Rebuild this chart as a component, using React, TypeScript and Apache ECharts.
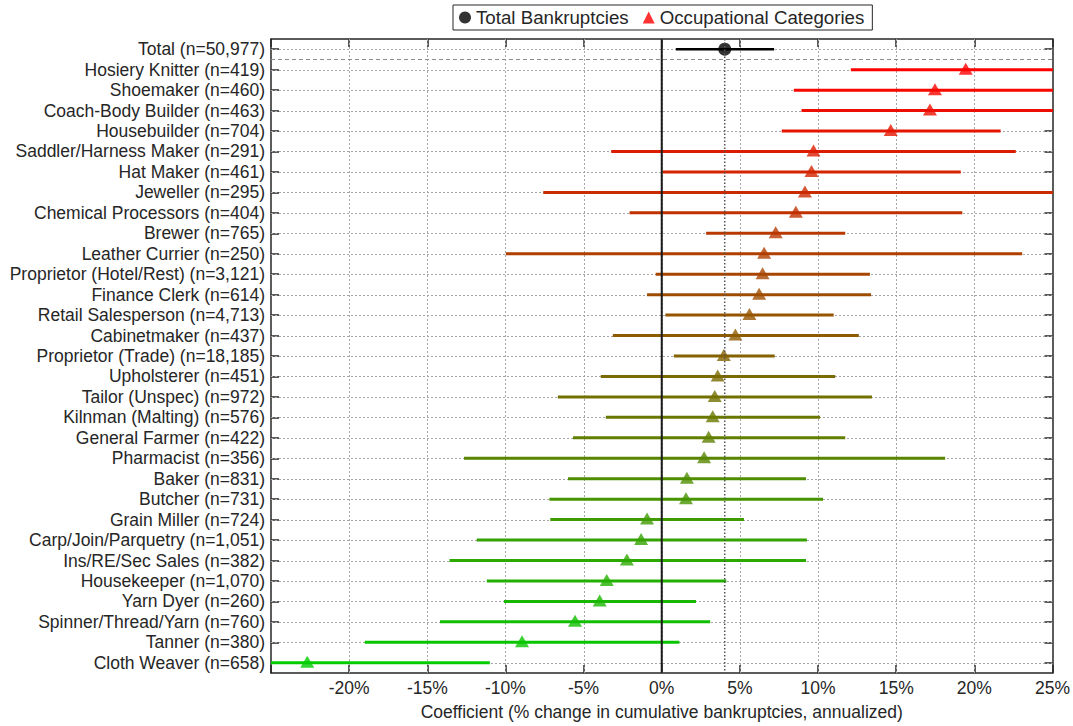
import React, { useEffect, useRef } from "react";
import * as echarts from "echarts";

// Row labels, top to bottom (first row is the pooled total)
const categories = [
  "Total (n=50,977)",
  "Hosiery Knitter (n=419)",
  "Shoemaker (n=460)",
  "Coach-Body Builder (n=463)",
  "Housebuilder (n=704)",
  "Saddler/Harness Maker (n=291)",
  "Hat Maker (n=461)",
  "Jeweller (n=295)",
  "Chemical Processors (n=404)",
  "Brewer (n=765)",
  "Leather Currier (n=250)",
  "Proprietor (Hotel/Rest) (n=3,121)",
  "Finance Clerk (n=614)",
  "Retail Salesperson (n=4,713)",
  "Cabinetmaker (n=437)",
  "Proprietor (Trade) (n=18,185)",
  "Upholsterer (n=451)",
  "Tailor (Unspec) (n=972)",
  "Kilnman (Malting) (n=576)",
  "General Farmer (n=422)",
  "Pharmacist (n=356)",
  "Baker (n=831)",
  "Butcher (n=731)",
  "Grain Miller (n=724)",
  "Carp/Join/Parquetry (n=1,051)",
  "Ins/RE/Sec Sales (n=382)",
  "Housekeeper (n=1,070)",
  "Yarn Dyer (n=260)",
  "Spinner/Thread/Yarn (n=760)",
  "Tanner (n=380)",
  "Cloth Weaver (n=658)",
];

// Point estimates (% change in cumulative bankruptcies, annualized)
const estimates = [
  4.03, 19.45, 17.48, 17.16, 14.65, 9.71, 9.58, 9.16, 8.58, 7.29, 6.55, 6.45,
  6.23, 5.61, 4.71, 3.97, 3.58, 3.39, 3.26, 3.0, 2.71, 1.61, 1.55, -0.94,
  -1.32, -2.23, -3.52, -3.97, -5.55, -8.94, -22.68,
];

// Lower bounds of the confidence intervals
const lowerBounds = [
  0.9, 12.1, 8.45, 8.94, 7.68, -3.23, 0.06, -7.58, -2.06, 2.84, -9.97, -0.39,
  -0.94, 0.23, -3.13, 0.77, -3.9, -6.65, -3.58, -5.68, -12.65, -6.0, -7.19,
  -7.13, -11.84, -13.58, -11.19, -10.1, -14.19, -19.0, -32.8,
];

// Upper bounds of the confidence intervals
const upperBounds = [
  7.19, 27.3, 27.3, 26.0, 21.68, 22.65, 19.13, 28.9, 19.23, 11.74, 23.06,
  13.32, 13.39, 11.0, 12.61, 7.23, 11.1, 13.45, 10.13, 11.74, 18.13, 9.23,
  10.32, 5.26, 9.29, 9.23, 4.13, 2.19, 3.1, 1.13, -11.0,
];

const xTicks = { min: -25, max: 25, step: 5 };

const FONT = '"Liberation Sans", Arial, Helvetica, sans-serif';
const INK = "#262626";
const GRID = "#a6a6a6";
const GRID_DASH = [2, 2];

// red -> green ramp across the occupational rows
function rowColor(i: number): string {
  if (i === 0) return "#000000";
  const t = (i - 1) / (categories.length - 2);
  const r = Math.round(255 * (1 - t));
  const g = Math.round(204 * t);
  return `rgb(${r},${g},0)`;
}

export default function App() {
  const ref = useRef<HTMLDivElement>(null);

  useEffect(() => {
    if (!ref.current) return;
    const chart = echarts.init(ref.current, undefined, { renderer: "svg" });

    const baseX = {
      type: "value" as const,
      min: xTicks.min,
      max: xTicks.max,
      interval: xTicks.step,
    };
    const boxLine = { show: true, onZero: false, lineStyle: { color: INK, width: 1.5 } };
    const boxTick = { show: true, inside: true, length: 8, lineStyle: { color: INK, width: 1.5 } };

    const option = {
      animation: false,
      textStyle: { fontFamily: FONT },
      grid: { left: 271, right: 20, top: 39, bottom: 47, containLabel: false },
      legend: {
        data: [
          { name: "Total Bankruptcies", icon: "circle" },
          { name: "Occupational Categories", icon: "triangle" },
        ],
        left: 453,
        top: 5,
        padding: [3, 8, 3, 6],
        itemGap: 14,
        itemWidth: 12,
        itemHeight: 12,
        borderColor: INK,
        borderWidth: 1,
        backgroundColor: "#fff",
        textStyle: { fontFamily: FONT, fontSize: 18.7, color: INK },
      },
      xAxis: [
        {
          ...baseX,
          position: "bottom",
          name: "Coefficient (% change in cumulative bankruptcies, annualized)",
          nameLocation: "middle",
          nameGap: 30,
          nameTextStyle: { fontFamily: FONT, fontSize: 17.5, color: INK },
          axisLine: boxLine,
          axisTick: boxTick,
          axisLabel: {
            show: true,
            margin: 6,
            fontFamily: FONT,
            fontSize: 17.5,
            color: INK,
            formatter: (v: number) => (v === xTicks.min ? "" : `${v}%`),
          },
          splitLine: { show: false },
        },
        {
          ...baseX,
          position: "top",
          axisLine: boxLine,
          axisTick: boxTick,
          axisLabel: { show: false },
          splitLine: { show: false },
        },
      ],
      yAxis: [
        {
          type: "category",
          data: categories,
          inverse: true,
          position: "left",
          axisLine: boxLine,
          axisTick: { ...boxTick, alignWithLabel: true, interval: 0 },
          axisLabel: { show: true, margin: 6, fontFamily: FONT, fontSize: 17.5, color: INK, interval: 0 },
          splitLine: { show: false },
        },
        {
          type: "category",
          data: categories,
          inverse: true,
          position: "right",
          axisLine: boxLine,
          axisTick: { ...boxTick, alignWithLabel: true, interval: 0 },
          axisLabel: { show: false },
          splitLine: { show: false },
        },
      ],
      series: [
        // dotted grid: one horizontal line per row, one vertical line per x tick
        {
          type: "custom",
          name: "grid",
          z: 1,
          silent: true,
          data: [[estimates[0], 0]],
          renderItem: (params: any, api: any) => {
            const cs = params.coordSys;
            const children: any[] = [];
            categories.forEach((_, i) => {
              const y = Math.round(api.coord([0, i])[1]) + 0.5;
              children.push({
                type: "line",
                shape: { x1: cs.x, y1: y, x2: cs.x + cs.width, y2: y },
                style: { stroke: GRID, lineWidth: 1, lineDash: GRID_DASH },
              });
            });
            for (let v = xTicks.min + xTicks.step; v < xTicks.max; v += xTicks.step) {
              const x = Math.round(api.coord([v, 0])[0]) + 0.5;
              children.push({
                type: "line",
                shape: { x1: x, y1: cs.y, x2: x, y2: cs.y + cs.height },
                style: { stroke: GRID, lineWidth: 1, lineDash: GRID_DASH },
              });
            }
            return { type: "group", children };
          },
        },
        // confidence-interval bars
        {
          type: "custom",
          name: "intervals",
          clip: true,
          z: 2,
          data: categories.map((_, i) => [lowerBounds[i], upperBounds[i], i]),
          encode: { x: [0, 1], y: 2 },
          renderItem: (_params: any, api: any) => {
            const i = api.value(2);
            const a = api.coord([api.value(0), i]);
            const b = api.coord([api.value(1), i]);
            return {
              type: "line",
              shape: { x1: a[0], y1: a[1], x2: b[0], y2: b[1] },
              style: { stroke: rowColor(i), lineWidth: i === 0 ? 2.5 : 3 },
            };
          },
        },
        {
          type: "scatter",
          name: "Total Bankruptcies",
          symbol: "circle",
          symbolSize: 13,
          z: 4,
          itemStyle: { color: "#000" },
          data: [[estimates[0], 0]],
        },
        {
          type: "scatter",
          name: "Occupational Categories",
          symbol: "triangle",
          symbolSize: [14, 12],
          symbolOffset: [0, -1],
          z: 4,
          itemStyle: { color: "#ff0000" },
          data: estimates.slice(1).map((v, k) => ({
            value: [v, k + 1],
            itemStyle: { color: rowColor(k + 1) },
          })),
        },
        // zero line, total-estimate line, and separator under the total row
        {
          type: "custom",
          name: "reference",
          z: 6,
          silent: true,
          data: [[estimates[0], 0]],
          renderItem: (params: any, api: any) => {
            const cs = params.coordSys;
            const x0 = api.coord([0, 0])[0];
            const xt = api.coord([api.value(0), 0])[0];
            const ySep = Math.round((api.coord([0, 0])[1] + api.coord([0, 1])[1]) / 2) + 0.5;
            return {
              type: "group",
              children: [
                {
                  type: "line",
                  shape: { x1: cs.x, y1: ySep, x2: cs.x + cs.width, y2: ySep },
                  style: { stroke: "#8c8c8c", lineWidth: 1, lineDash: [4, 3] },
                },
                {
                  type: "line",
                  shape: { x1: x0, y1: cs.y, x2: x0, y2: cs.y + cs.height },
                  style: { stroke: "#1a1a1a", lineWidth: 2 },
                },
                {
                  type: "line",
                  shape: { x1: xt, y1: cs.y, x2: xt, y2: cs.y + cs.height },
                  style: { stroke: "#555555", lineWidth: 1.5, lineDash: [1.5, 2] },
                },
              ],
            };
          },
        },
      ],
    };

    chart.setOption(option as any);
    return () => chart.dispose();
  }, []);

  return (
    <div
      ref={ref}
      style={{ position: "fixed", left: 0, top: 0, width: 1073, height: 726, background: "#fff" }}
    />
  );
}
